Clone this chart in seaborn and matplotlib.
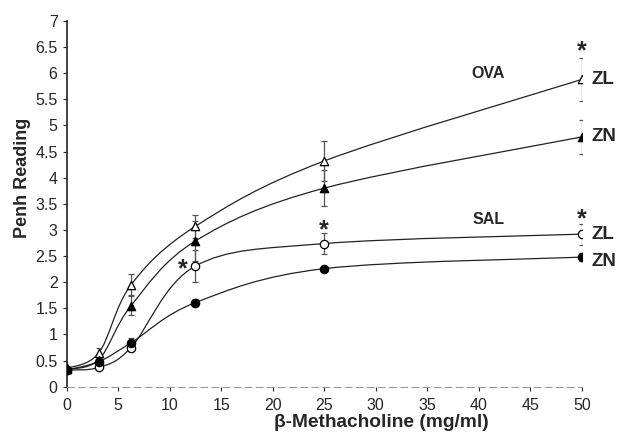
import matplotlib
matplotlib.use("Agg")
import matplotlib.pyplot as plt
from matplotlib.path import Path
from matplotlib.patches import PathPatch
import seaborn as sns
import numpy as np

# dose of methacholine (mg/ml)
dose = [0, 3.125, 6.25, 12.5, 25, 50]

# OVA groups
ova_zl = [0.35, 0.65, 1.95, 3.07, 4.32, 5.88]
ova_zl_err = [0.03, 0.10, 0.20, 0.22, 0.38, 0.41]
ova_zn = [0.33, 0.52, 1.55, 2.79, 3.80, 4.78]
ova_zn_err = [0.03, 0.08, 0.18, 0.38, 0.35, 0.32]

# SAL groups
sal_zl = [0.32, 0.37, 0.75, 2.31, 2.74, 2.92]
sal_zl_err = [0.03, 0.04, 0.07, 0.30, 0.20, 0.20]
sal_zn = [0.32, 0.48, 0.84, 1.61, 2.26, 2.48]
sal_zn_err = [0.03, 0.05, 0.10, 0.07, 0.05, 0.08]

series = [
    ("OVA ZL", ova_zl, ova_zl_err, "^", "white"),
    ("OVA ZN", ova_zn, ova_zn_err, "^", "black"),
    ("SAL ZL", sal_zl, sal_zl_err, "o", "white"),
    ("SAL ZN", sal_zn, sal_zn_err, "o", "black"),
]

sns.set_style("white")
plt.rcParams["font.family"] = ["Liberation Sans", "DejaVu Sans"]

fig = plt.figure(figsize=(6.17, 4.36), dpi=100)
ax = fig.add_axes([0.108, 0.113, 0.835, 0.839])


def smooth_path(xs, ys, tension=1 / 6):
    # catmull-rom style bezier through the data points (like excel smoothed lines)
    xs = np.asarray(xs, float)
    ys = np.asarray(ys, float)
    verts = [(xs[0], ys[0])]
    codes = [Path.MOVETO]
    n = len(xs)
    for i in range(n - 1):
        p0 = np.array([xs[max(i - 1, 0)], ys[max(i - 1, 0)]])
        p1 = np.array([xs[i], ys[i]])
        p2 = np.array([xs[i + 1], ys[i + 1]])
        p3 = np.array([xs[min(i + 2, n - 1)], ys[min(i + 2, n - 1)]])
        c1 = p1 + (p2 - p0) * tension
        c2 = p2 - (p3 - p1) * tension
        verts += [tuple(c1), tuple(c2), tuple(p2)]
        codes += [Path.CURVE4] * 3
    return Path(verts, codes)


for name, vals, errs, mk, fc in series:
    # build the curve in pixel-like units so the bends look right, then scale back
    sx = 10.31
    sy = 52.2
    p = smooth_path(np.array(dose) * sx, np.array(vals) * sy)
    v = p.vertices.copy()
    v[:, 0] /= sx
    v[:, 1] /= sy
    ax.add_patch(PathPatch(Path(v, p.codes), fill=False, edgecolor="#222222",
                           lw=0.9, zorder=2))
    ax.errorbar(dose, vals, yerr=errs, fmt="none", ecolor="#555555",
                elinewidth=0.9, capsize=2.5, capthick=0.9, zorder=3)
    sns.scatterplot(x=dose, y=vals, marker=mk, s=36, color=fc,
                    edgecolor="black", linewidth=0.9, zorder=4, ax=ax)

ax.set_xlim(0, 50)
ax.set_ylim(0, 7)
ax.set_xticks(np.arange(0, 55, 5))
ax.set_yticks(np.arange(0, 7.5, 0.5))
ax.set_yticklabels([f"{t:g}" for t in np.arange(0, 7.5, 0.5)])
ax.tick_params(axis="both", labelsize=11.5, length=3, direction="out",
               left=True, bottom=True, width=0.8)
ax.tick_params(axis="x", pad=5)

for s in ["top", "right"]:
    ax.spines[s].set_visible(False)
ax.spines["left"].set_linewidth(1.2)
ax.spines["left"].set_color("#222222")
ax.spines["bottom"].set_linewidth(0.8)
ax.spines["bottom"].set_color("#999999")
ax.spines["bottom"].set_linestyle((0, (6, 4)))

ax.set_xlabel("β-Methacholine (mg/ml)", fontsize=13.8, fontweight="bold")
ax.xaxis.set_label_coords(0.61, -0.075)
ax.set_ylabel("Penh Reading", fontsize=13, fontweight="bold")
ax.yaxis.set_label_coords(-0.07, 0.57)

# group labels
ax.text(40.9, 6.0, "OVA", fontsize=11.5, fontweight="bold", ha="center", va="center")
ax.text(40.9, 3.2, "SAL", fontsize=11.5, fontweight="bold", ha="center", va="center")
label_kw = dict(fontsize=13.5, fontweight="bold", ha="left", va="center", clip_on=False)
ax.text(50.9, 5.88, "ZL", **label_kw)
ax.text(50.9, 4.78, "ZN", **label_kw)
ax.text(50.9, 2.92, "ZL", **label_kw)
ax.text(50.9, 2.40, "ZN", **label_kw)

# significance asterisks
star_kw = dict(fontsize=18, fontweight="bold", ha="center", va="center", clip_on=False)
ax.text(50, 6.42, "*", **star_kw)
ax.text(50, 3.2, "*", **star_kw)
ax.text(25, 3.0, "*", **star_kw)
ax.text(11.3, 2.24, "*", **star_kw)

fig.savefig("out.png", dpi=100)
